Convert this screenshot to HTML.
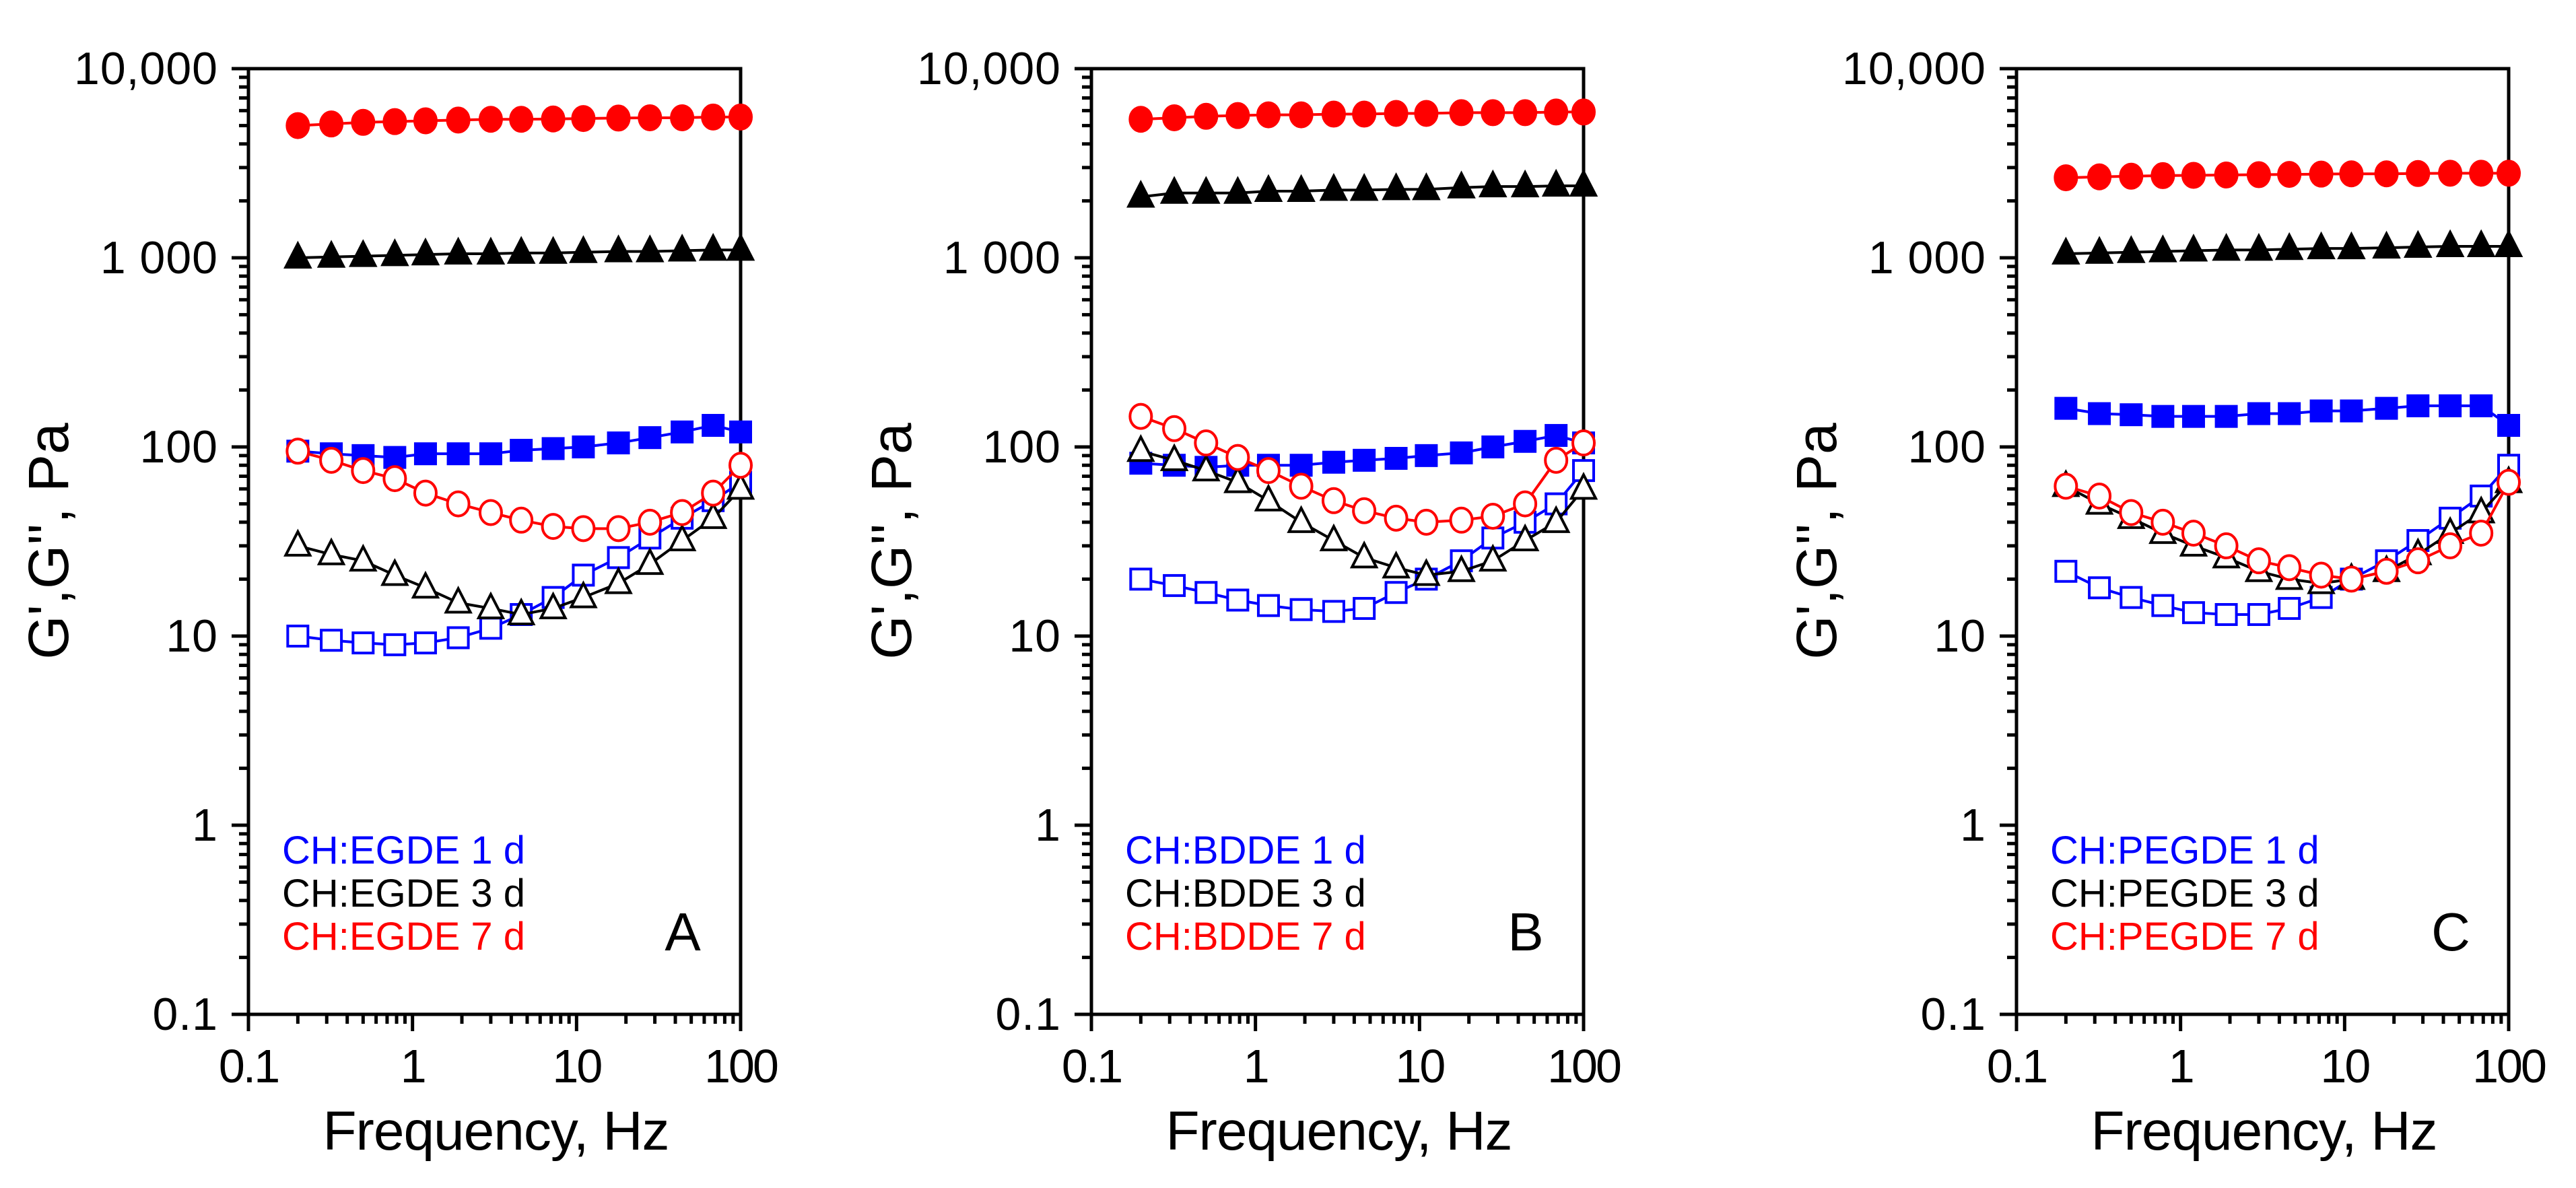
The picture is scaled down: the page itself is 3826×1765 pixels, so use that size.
<!DOCTYPE html>
<html><head><meta charset="utf-8"><style>
html,body{margin:0;padding:0;background:#fff}
svg{display:block}
text{font-family:"Liberation Sans",Arial,sans-serif}
</style></head><body>
<svg id="fig" width="3826" height="1765" viewBox="0 0 3826 1765" xmlns="http://www.w3.org/2000/svg"></svg>
<script>
const freqs = [0.2,0.32,0.5,0.78,1.2,1.9,3,4.6,7.2,11,18,28,44,68,100];
const yTickLabels = ["0.1","1","10","100","1 000","10,000"];
const xTickLabels = ["0.1","1","10","100"];
const panelLetters = ["A","B","C"];
const agents = ["EGDE","BDDE","PEGDE"];
// Panel A
const A_g1_1d = [95,92,90,88,92,92,92,96,98,100,105,112,120,130,120];
const A_g2_1d = [10,9.5,9.2,9,9.2,9.8,11,13,16,21,26,33,42,52,65];
const A_g1_3d = [1000,1010,1020,1030,1040,1050,1050,1060,1060,1070,1080,1080,1090,1100,1100];
const A_g2_3d = [30,27,25,21,18,15,14,13,14,16,19,24,32,42,60];
const A_g1_7d = [5000,5100,5200,5250,5300,5350,5400,5400,5420,5450,5480,5500,5500,5550,5550];
const A_g2_7d = [95,85,75,68,57,50,45,41,38,37,37,40,45,57,80];
// Panel B
const B_g1_1d = [82,80,78,80,80,80,83,85,87,90,93,100,107,115,105];
const B_g2_1d = [20,18.5,17,15.5,14.5,13.8,13.5,14,17,20,25,33,40,50,75];
const B_g1_3d = [2100,2200,2200,2200,2250,2250,2280,2280,2300,2300,2350,2380,2380,2400,2400];
const B_g2_3d = [95,85,75,65,52,40,32,26,23,21,22,25,32,40,60];
const B_g1_7d = [5400,5500,5600,5650,5700,5700,5750,5750,5800,5800,5850,5850,5850,5900,5900];
const B_g2_7d = [145,125,105,88,75,62,52,46,42,40,41,43,50,85,105];
// Panel C
const C_g1_1d = [160,150,148,145,145,145,150,150,155,155,160,165,165,165,130];
const C_g2_1d = [22,18,16,14.5,13.3,13,13,14,16,20,25,32,42,55,80];
const C_g1_3d = [1050,1060,1070,1080,1090,1100,1100,1110,1120,1120,1130,1140,1150,1150,1150];
const C_g2_3d = [62,50,42,35,30,26,22,20,19,20,22,27,35,45,65];
const C_g1_7d = [2650,2680,2700,2720,2730,2740,2750,2760,2770,2780,2780,2790,2800,2800,2800];
const C_g2_7d = [62,55,45,40,35,30,25,23,21,20,22,25,30,35,65];

const panelsData = [
 [A_g1_1d,A_g2_1d,A_g1_3d,A_g2_3d,A_g1_7d,A_g2_7d],
 [B_g1_1d,B_g2_1d,B_g1_3d,B_g2_3d,B_g1_7d,B_g2_7d],
 [C_g1_1d,C_g2_1d,C_g1_3d,C_g2_3d,C_g1_7d,C_g2_7d]
];
const lefts=[369,1621,2995], W=731, TOP=102, BOT=1507;
const NS="http://www.w3.org/2000/svg";
const svg=document.getElementById('fig');
function mk(tag,attrs,parent){const e=document.createElementNS(NS,tag);for(const k in attrs)e.setAttribute(k,attrs[k]);(parent||svg).appendChild(e);return e;}
const colors=["#0000ff","#0000ff","#000000","#000000","#ff0000","#ff0000"];
const shapes=["square","square","triangle","triangle","circle","circle"];
const filled=[true,false,true,false,true,false];
const seriesNames=["g-prime-1d","g-double-prime-1d","g-prime-3d","g-double-prime-3d","g-prime-7d","g-double-prime-7d"];

panelsData.forEach((series,pi)=>{
  const L=lefts[pi];
  const g=mk('g',{});
  
  
  const xs=v=>L+(Math.log10(v)+1)/3*W;
  const ys=v=>BOT-(Math.log10(v)+1)/5*(BOT-TOP);
  const fr=mk('rect',{x:L,y:TOP,width:W,height:BOT-TOP,fill:'none',stroke:'#000','stroke-width':5},g);
  
  
  for(let d=-1;d<=4;d++){
    for(let m=1;m<=9;m++){
      const v=m*Math.pow(10,d); if(d===4&&m>1)break;
      const y=ys(v), len=m===1?25:14;
      mk('line',{x1:L-len,x2:L,y1:y,y2:y,stroke:'#000','stroke-width':5},g);
    }
  }
  yTickLabels.forEach((t,i)=>{
    const tx=mk('text',{x:L-45,y:ys(Math.pow(10,i-1))+23,'text-anchor':'end','font-size':68,fill:'#000','letter-spacing':1},g);
    tx.textContent=t;
    
    
  });
  for(let d=-1;d<=2;d++){
    for(let m=1;m<=9;m++){
      if(d===2&&m>1)break;
      const x=xs(m*Math.pow(10,d)), len=m===1?25:14;
      mk('line',{x1:x,x2:x,y1:BOT,y2:BOT+len,stroke:'#000','stroke-width':5},g);
    }
  }
  xTickLabels.forEach((t,i)=>{
    const tx=mk('text',{x:xs(Math.pow(10,i-1)),y:1608,'text-anchor':'middle','font-size':70,fill:'#000','letter-spacing':-3},g);
    tx.textContent=t;
    
    
  });
  const xt=mk('text',{x:L+W/2+2,y:1708,'text-anchor':'middle','font-size':82,fill:'#000','letter-spacing':-1},g);
  xt.textContent='Frequency, Hz';
  
  
  const yt=mk('text',{x:0,y:0,'text-anchor':'middle','font-size':84,fill:'#000','letter-spacing':0,transform:`translate(${L-268},804) rotate(-90)`},g);
  yt.textContent="G',G'', Pa";
  
  
  series.forEach((vals,si)=>{
    const sg=mk('g',{},g);
    
    
    const c=colors[si];
    const pts=vals.map((v,i)=>[xs(freqs[i]),ys(v)]);
    mk('polyline',{points:pts.map(p=>p.join(',')).join(' '),fill:'none',stroke:c,'stroke-width':4},sg);
    pts.forEach(([x,y])=>{
      const st={fill:filled[si]?c:'#fff',stroke:c,'stroke-width':4};
      let m;
      if(shapes[si]==='square') m=mk('rect',Object.assign({x:x-15,y:y-15,width:30,height:30},st),sg);
      else if(shapes[si]==='circle') m=mk('ellipse',Object.assign({cx:x,cy:y,rx:16,ry:18},st),sg);
      else m=mk('polygon',Object.assign({points:`${x},${y-21} ${x-18},${y+14} ${x+18},${y+14}`},st),sg);
      
      
    });
  });
  const leg=[["#0000ff","1 d"],["#000000","3 d"],["#ff0000","7 d"]];
  leg.forEach((l,i)=>{
    const t=mk('text',{x:L+50,y:1283+i*64,'font-size':58,fill:l[0],'letter-spacing':0},g);
    t.textContent='CH:'+agents[pi]+' '+l[1];
    
    
  });
  const pl=mk('text',{x:L+645,y:1412,'text-anchor':'middle','font-size':80,fill:'#000'},g);
  pl.textContent=panelLetters[pi];
  
  
});
</script>
</body></html>
